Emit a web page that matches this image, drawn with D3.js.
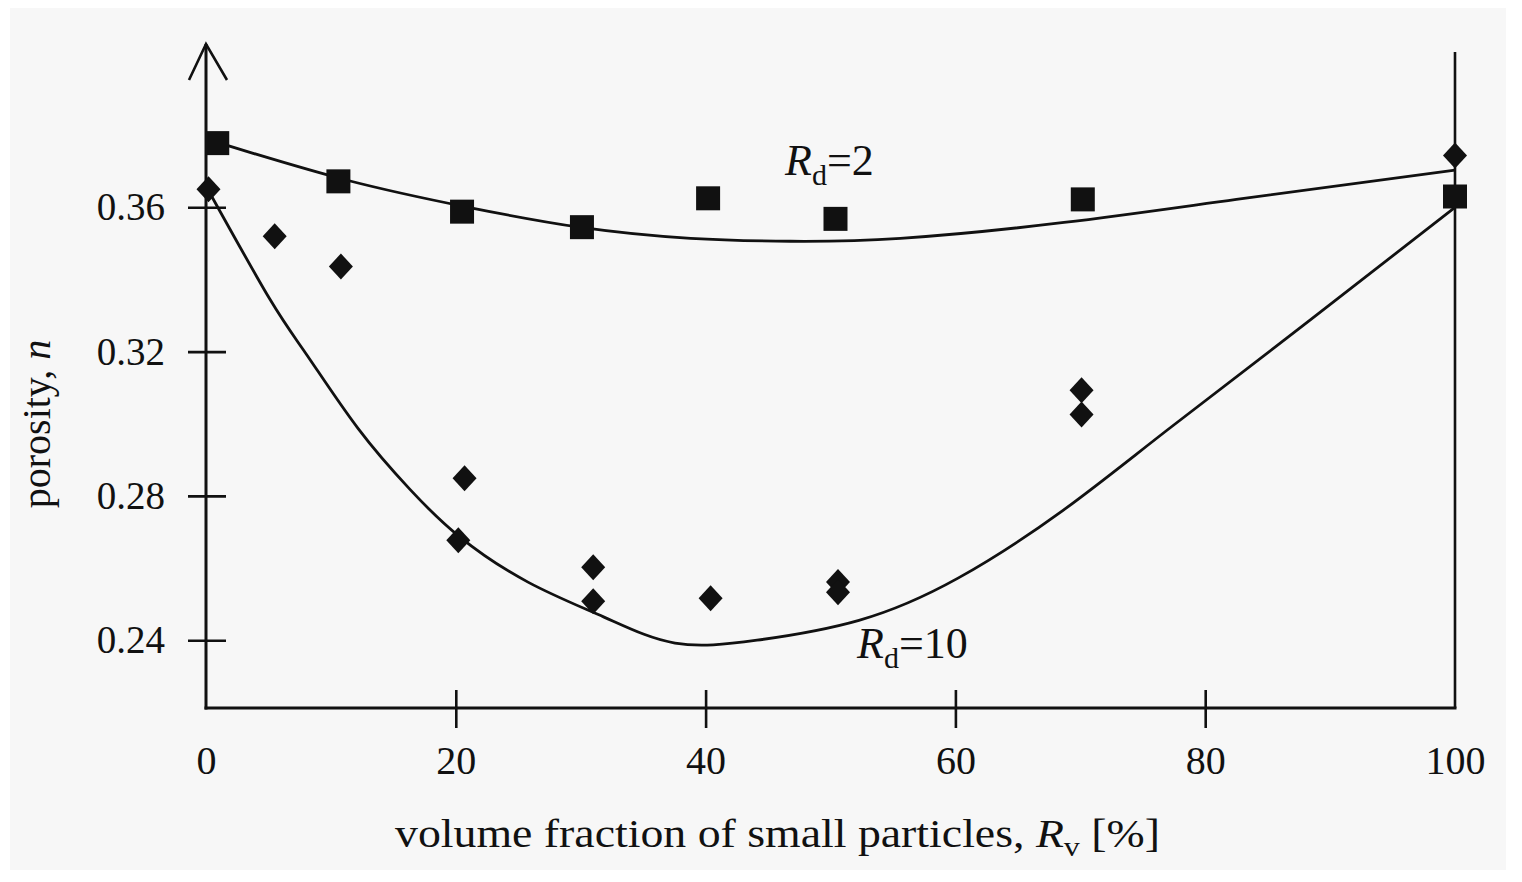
<!DOCTYPE html>
<html>
<head>
<meta charset="utf-8">
<script src="https://cdn.jsdelivr.net/npm/d3@7"></script>
<style>
  html, body { margin: 0; padding: 0; background: #ffffff; }
  svg { display: block; }
  text { font-family: "Liberation Serif", "Times New Roman", serif; fill: #111; }
</style>
</head>
<body>
<svg id="chart" width="1522" height="882"></svg>
<script>
// ---- data ----
const xTicks = [0, 20, 40, 60, 80, 100];
const yTicks = [0.24, 0.28, 0.32, 0.36];
const yTickLabels = ["0.24", "0.28", "0.32", "0.36"];

// R_d = 2 measurements (squares)
const rd2X = [0.9, 10.6, 20.5, 30.1, 40.2, 50.4, 70.2, 100];
const rd2Y = [0.3778, 0.3672, 0.3588, 0.3545, 0.3625, 0.3568, 0.3622, 0.3630];
// R_d = 2 fitted curve
const rd2CurveX = [0.9, 11.3, 21.0, 29.9, 38.8, 46.8, 55.6, 68.7, 82.5, 100];
const rd2CurveY = [0.3780, 0.3675, 0.3600, 0.3545, 0.3514, 0.3506, 0.3514, 0.3558, 0.3622, 0.3703];

// R_d = 10 measurements (diamonds)
const rd10X = [0.2, 5.5, 10.8, 20.7, 20.2, 31.0, 31.0, 40.4, 50.6, 50.6, 70.1, 70.1, 100];
const rd10Y = [0.3650, 0.3520, 0.3436, 0.2849, 0.2677, 0.2602, 0.2508, 0.2516, 0.2561, 0.2533, 0.3093, 0.3026, 0.3744];
// R_d = 10 fitted curve
const rd10CurveX = [0.24, 5.12, 8.09, 12.17, 16.33, 20.26, 25.78, 31.87, 37.55, 44.12, 52.28, 60.21, 68.62, 76.94, 88.39, 100];
const rd10CurveY = [0.3644, 0.3345, 0.3190, 0.2987, 0.2818, 0.2688, 0.2561, 0.2464, 0.2392, 0.2400, 0.2455, 0.2572, 0.2760, 0.2982, 0.3287, 0.3600];

const xTitle = "volume fraction of small particles, ";
const yTitle = "porosity, ";

// ---- drawing ----
const svg = d3.select("#chart");

// scanned paper background
svg.append("rect").attr("x", 0).attr("y", 0).attr("width", 1522).attr("height", 882).attr("fill", "#ffffff");
svg.append("rect").attr("x", 10).attr("y", 8).attr("width", 1496).attr("height", 862).attr("fill", "#f7f7f7");

const x = d3.scaleLinear().domain([0, 100]).range([206, 1455]);
const y = d3.scaleLinear().domain([0.2212, 0.4050]).range([708, 45]);

const ink = "#111";

// y axis
const yAxis = svg.append("g").attr("transform", `translate(${x(0)},0)`)
  .call(d3.axisLeft(y).tickValues(yTicks).tickFormat((d, i) => yTickLabels[i]).tickSize(0).tickPadding(41));
yAxis.select(".domain").remove();
yAxis.selectAll(".tick line").remove();
yAxis.selectAll(".tick").append("line")
  .attr("x1", -18).attr("x2", 20).attr("stroke", ink).attr("stroke-width", 2.6);
yAxis.selectAll(".tick text")
  .attr("font-size", 39).attr("dy", "0.32em").style("font-family", "Liberation Serif").attr("fill", ink);
svg.append("line").attr("x1", x(0)).attr("x2", x(0)).attr("y1", 44).attr("y2", y.range()[0] + 1.5)
  .attr("stroke", ink).attr("stroke-width", 3);
// arrow head
svg.append("path")
  .attr("d", `M${x(0) - 17},80 L${x(0)},44 L${x(0) + 21},80`)
  .attr("fill", "none").attr("stroke", ink).attr("stroke-width", 2.6);

// x axis
const xAxis = svg.append("g").attr("transform", `translate(0,${y.range()[0]})`)
  .call(d3.axisBottom(x).tickValues(xTicks).tickFormat(d3.format("d")).tickSize(0).tickPadding(38));
xAxis.select(".domain").remove();
xAxis.selectAll(".tick line").remove();
xAxis.selectAll(".tick").filter(d => d !== 0 && d !== 100).append("line")
  .attr("y1", -18).attr("y2", 20).attr("stroke", ink).attr("stroke-width", 2.6);
xAxis.selectAll(".tick text")
  .attr("font-size", 40).attr("dy", "0.71em").style("font-family", "Liberation Serif").attr("fill", ink);
svg.append("line").attr("x1", x(0) - 1.5).attr("x2", x(100) + 1.5).attr("y1", y.range()[0]).attr("y2", y.range()[0])
  .attr("stroke", ink).attr("stroke-width", 3.2);
// right border line
svg.append("line").attr("x1", x(100)).attr("x2", x(100)).attr("y1", 52).attr("y2", y.range()[0])
  .attr("stroke", ink).attr("stroke-width", 2.6);

// curves
const line = d3.line().x(d => x(d[0])).y(d => y(d[1])).curve(d3.curveNatural);
svg.append("path").datum(rd2CurveX.map((v, i) => [v, rd2CurveY[i]]))
  .attr("d", line).attr("fill", "none").attr("stroke", ink).attr("stroke-width", 2.8);
svg.append("path").datum(rd10CurveX.map((v, i) => [v, rd10CurveY[i]]))
  .attr("d", line).attr("fill", "none").attr("stroke", ink).attr("stroke-width", 2.8);

// markers
const sq = 24;
svg.append("g").selectAll("rect").data(rd2X.map((v, i) => [v, rd2Y[i]])).join("rect")
  .attr("x", d => x(d[0]) - sq / 2).attr("y", d => y(d[1]) - sq / 2)
  .attr("width", sq).attr("height", sq).attr("fill", ink);
svg.append("g").selectAll("path").data(rd10X.map((v, i) => [v, rd10Y[i]])).join("path")
  .attr("transform", d => `translate(${x(d[0])},${y(d[1])})`)
  .attr("d", "M0,-13 L12,0 L0,13 L-12,0 Z").attr("fill", ink);

// curve labels
function rdLabel(px, py, val) {
  const t = svg.append("text").attr("x", px).attr("y", py).attr("font-size", 44);
  t.append("tspan").attr("font-style", "italic").text("R");
  t.append("tspan").attr("font-size", 30).attr("dy", 10).text("d");
  t.append("tspan").attr("dy", -10).text("=" + val);
}
rdLabel(785, 175, "2");
rdLabel(857, 658, "10");

// axis titles
const xt = svg.append("text").attr("x", 395).attr("y", 847).attr("font-size", 40)
  .attr("textLength", 765).attr("lengthAdjust", "spacingAndGlyphs");
xt.append("tspan").text(xTitle);
xt.append("tspan").attr("font-style", "italic").text("R");
xt.append("tspan").attr("font-size", 28).attr("dy", 9).text("v");
xt.append("tspan").attr("dy", -9).text(" [%]");

const yt = svg.append("text").attr("transform", "translate(50,424) rotate(-90)").attr("text-anchor", "middle").attr("font-size", 40);
yt.append("tspan").text(yTitle);
yt.append("tspan").attr("font-style", "italic").text("n");
</script>
</body>
</html>
